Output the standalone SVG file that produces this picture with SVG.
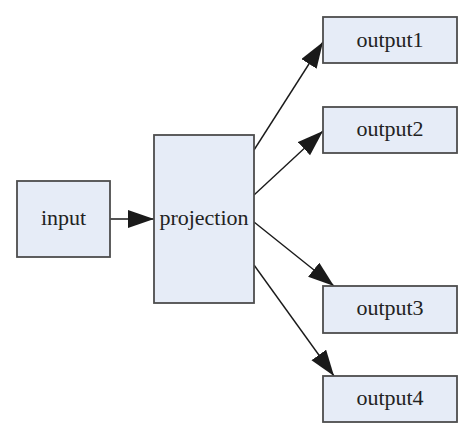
<svg xmlns="http://www.w3.org/2000/svg" width="474" height="440" viewBox="0 0 474 440">
<style>
.box{fill:#e6ecf7;stroke:#4d4d4d;stroke-width:1.8}
.lbl{font-family:'Liberation Serif','DejaVu Serif',serif;font-size:22px;fill:#222;text-anchor:middle}
.edge{stroke:#1a1a1a;stroke-width:1.4;fill:none;marker-end:url(#ah)}
</style>
<defs>
<marker id="ah" markerUnits="userSpaceOnUse" markerWidth="27" markerHeight="19" refX="26" refY="9" orient="auto">
<path d="M0,0 L26,9 L0,18 z" fill="#1a1a1a"/>
</marker>
</defs>
<rect width="474" height="440" fill="#ffffff"/>
<g id="connectors">
<path class="edge" d="M110,219 L154,219"/>
<path class="edge" d="M254,150 L323,42"/>
<path class="edge" d="M254,195 L323,131"/>
<path class="edge" d="M254,222 L334,286"/>
<path class="edge" d="M254,265 L334,376"/>
</g>
<g id="input">
<rect class="box" x="17" y="181" width="93" height="76"/>
<text class="lbl" x="63.5" y="225">input</text>
</g>
<g id="projection">
<rect class="box" x="154" y="135" width="100" height="168"/>
<text class="lbl" x="204" y="225">projection</text>
</g>
<g id="output1">
<rect class="box" x="323" y="17" width="134" height="46"/>
<text class="lbl" x="390" y="47">output1</text>
</g>
<g id="output2">
<rect class="box" x="323" y="107" width="134" height="46"/>
<text class="lbl" x="390" y="136">output2</text>
</g>
<g id="output3">
<rect class="box" x="323" y="286" width="134" height="47"/>
<text class="lbl" x="390" y="315">output3</text>
</g>
<g id="output4">
<rect class="box" x="323" y="376" width="134" height="46"/>
<text class="lbl" x="390" y="405">output4</text>
</g>
</svg>
